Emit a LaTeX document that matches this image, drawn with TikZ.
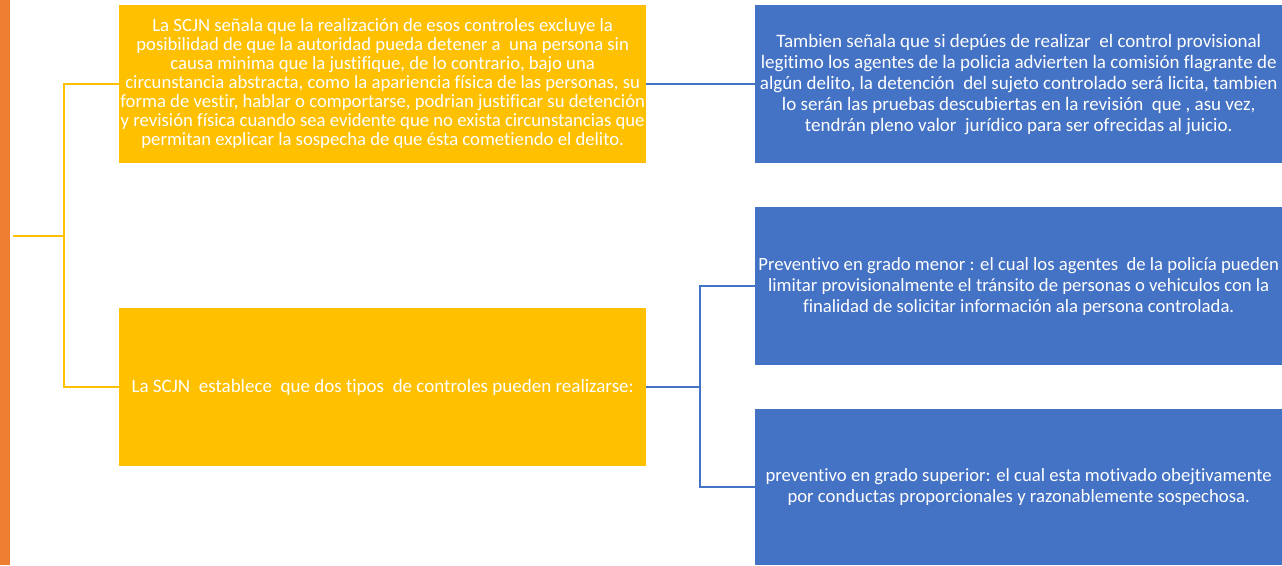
\documentclass[tikz,border=0pt]{standalone}
\usepackage{fontspec}
\setmainfont[Ligatures={NoCommon,TeX}]{Carlito}
\definecolor{orangebar}{HTML}{ED7D31}
\definecolor{ybox}{HTML}{FFC000}
\definecolor{bbox}{HTML}{4472C4}
\begin{document}
\begin{tikzpicture}[x=1pt,y=-1pt,
  boxbase/.style={anchor=north west,inner sep=0pt,minimum width=527pt,text=white,align=center},
  yellowbox/.style={boxbase,fill=ybox},
  bluebox/.style={boxbase,fill=bbox},
  yline/.style={draw=ybox,line width=2pt},
  bline/.style={draw=bbox,line width=2pt}]
\useasboundingbox[fill=white] (0,0) rectangle (1282,565);
\fill[orangebar] (0,0) rectangle (10,565);
\node[yellowbox,minimum height=158pt,font=\fontsize{18.7}{19.1}\selectfont] (y1) at (119,5)
 {La SCJN señala que la realización de esos controles excluye la\\
  posibilidad de que la autoridad pueda detener a\ \ una persona sin\\
  causa minima que la justifique, de lo contrario, bajo una\\
  circunstancia abstracta, como la apariencia física de las personas, su\\
  forma de vestir, hablar o comportarse, podrian justificar su detención\\
  y revisión física cuando sea evidente que no exista circunstancias que\\
  permitan explicar la sospecha de que ésta cometiendo el delito.\rule[-4pt]{0pt}{1pt}};
\node[yellowbox,minimum height=158pt,font=\fontsize{19}{21}\selectfont] (y2) at (119,308)
 {La SCJN\ \ establece\ \ que dos tipos\ \ de controles pueden realizarse:};
\node[bluebox,minimum height=158pt,font=\fontsize{19}{21}\selectfont] (b1) at (755,5)
 {Tambien señala que si depúes de realizar\ \ el control provisional\\
  legitimo los agentes de la policia advierten la comisión flagrante de\\
  algún delito, la detención\ \ del sujeto controlado será licita, tambien\\
  lo serán las pruebas descubiertas en la revisión\ \ que , asu vez,\\
  tendrán pleno valor\ \ jurídico para ser ofrecidas al juicio.};
\node[bluebox,minimum height=158pt,font=\fontsize{18.7}{21}\selectfont] (b2) at (755,207)
 {Preventivo en grado menor : el cual los agentes\ \ de la policía pueden\\
  limitar provisionalmente el tránsito de personas o vehiculos con la\\
  finalidad de solicitar información ala persona controlada.};
\node[bluebox,minimum height=156pt,font=\fontsize{18.7}{21}\selectfont] (b3) at (755,409)
 {preventivo en grado superior: el cual esta motivado obejtivamente\\
  por conductas proporcionales y razonablemente sospechosa.};
\coordinate (ystart) at (13,236);
\coordinate (yfork) at (64,236);
\draw[yline] (ystart) -- (yfork);
\draw[yline] (y1.west) -- ++(-55,0) |- (y2.west);
\draw[bline] (y1.east) -- (b1.west);
\draw[bline] (y2.east) -- ++(54,0) coordinate (bfork);
\draw[bline] (b2.west) -| (bfork) |- (b3.west);
\end{tikzpicture}
\end{document}
